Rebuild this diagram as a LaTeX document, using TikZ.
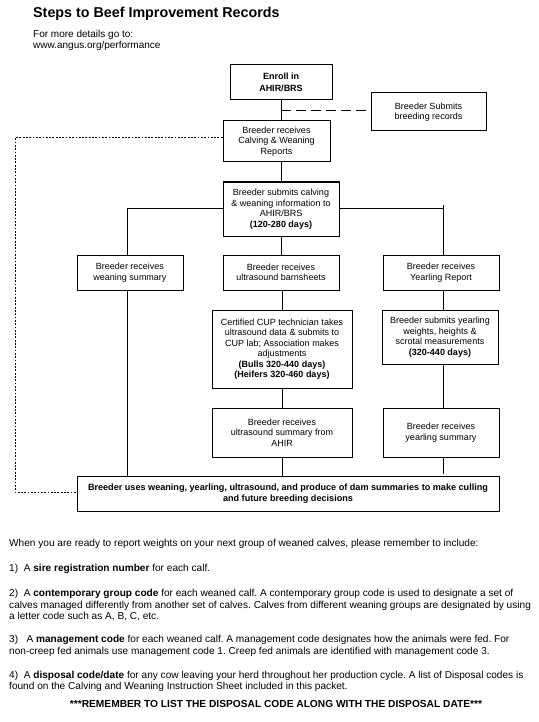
\documentclass[tikz,border=0pt]{standalone}
\usepackage{fontspec}
\setmainfont{Liberation Sans}
\frenchspacing
\begin{document}
\begin{tikzpicture}[x=1pt,y=-1pt,
  box/.style={draw,line width=1pt,rectangle,inner sep=0pt,align=center,
    font=\fontsize{9}{10.5}\selectfont},
  conn/.style={line width=0.9pt},
  body/.style={anchor=base west,inner sep=0pt,font=\fontsize{10.1}{11.5}\selectfont},
  dotline/.style={line width=1pt,dash pattern=on 1.8pt off 1.5pt},
  dashline/.style={line width=0.9pt,dash pattern=on 10pt off 5pt}]
\useasboundingbox (0,0) rectangle (538,722);
\fill[white] (0,0) rectangle (538,722);

\node[anchor=base west,inner sep=0pt,font=\bfseries\fontsize{14.3}{16}\selectfont] (title) at (33,17.3) {Steps to Beef Improvement Records};
\node[anchor=base west,inner sep=0pt,font=\fontsize{10}{12}\selectfont] (more) at (33,37.3) {For more details go to:};
\node[anchor=base west,inner sep=0pt,font=\fontsize{10}{12}\selectfont] (url) at (33,48.8) {www.angus.org/performance};

\node[box,minimum width=102pt,minimum height=35pt,font=\bfseries\fontsize{9}{11.5}\selectfont] (enroll) at (281,82.5) {Enroll in\\AHIR/BRS};
\node[box,minimum width=115pt,minimum height=38pt] (breed) at (428.5,112) {Breeder Submits\\breeding records};
\node[box,minimum width=107pt,minimum height=41pt] (calving) at (276.5,141.5) {Breeder receives\\Calving \& Weaning\\Reports};
\node[box,minimum width=116pt,minimum height=54pt] (submits) at (281,209) {Breeder submits calving\\\& weaning information to\\AHIR/BRS\\\textbf{(120-280 days)}};
\node[box,minimum width=106pt,minimum height=35pt] (weaning) at (130,272.5) {Breeder receives\\weaning summary};
\node[box,minimum width=116pt,minimum height=35pt] (barn) at (281,272.5) {Breeder receives\\ultrasound barnsheets};
\node[box,minimum width=116pt,minimum height=35pt] (yreport) at (441,272.5) {Breeder receives\\Yearling Report};
\node[box,minimum width=140pt,minimum height=78pt] (cup) at (282,349) {Certified CUP technician takes\\ultrasound data \& submits to\\CUP lab; Association makes\\adjustments\\\textbf{(Bulls 320-440 days)}\\\textbf{(Heifers 320-460 days)}};
\node[box,minimum width=116pt,minimum height=54pt] (ysubmit) at (440,337) {Breeder submits yearling\\weights, heights \&\\scrotal measurements\\\textbf{(320-440 days)}};
\node[box,minimum width=140pt,minimum height=49pt] (usum) at (282,432.5) {Breeder receives\\ultrasound summary from\\AHIR};
\node[box,minimum width=116pt,minimum height=49pt] (ysum) at (441,432.5) {Breeder receives\\yearling summary};
\node[box,minimum width=422pt,minimum height=35pt,font=\bfseries\fontsize{9.1}{11}\selectfont] (final) at (288,493.5) {Breeder uses weaning, yearling, ultrasound, and produce of dam summaries to make culling\\and future breeding decisions};

% connectors
\coordinate (dj) at (281,110);
\coordinate (dl1) at (15,138);
\coordinate (dl2) at (15,492);
\coordinate (hl) at (127,208.5);
\coordinate (hr) at (443,208.5);
\coordinate (rt) at (443,205);
\draw[conn] (enroll.south) -- (enroll.south |- calving.north);
\draw[dashline] (dj) -- (dj -| breed.west);
\draw[conn] (submits.north |- calving.south) -- (submits.north);
\draw[conn] (submits.west |- hl) -- (hl) -- (hl |- weaning.north);
\draw[conn] (submits.east |- hr) -- (hr);
\draw[conn] (rt) -- (rt |- yreport.north);
\draw[conn] (barn.north |- submits.south) -- (barn.north);
\draw[conn] (cup.north |- barn.south) -- (cup.north);
\draw[conn] (cup.south) -- (usum.north);
\draw[conn] (usum.south) -- (usum.south |- final.north);
\draw[conn] (hl |- weaning.south) -- (hl |- final.north);
\draw[conn] (rt |- yreport.south) -- (rt |- ysubmit.north);
\draw[conn] (rt |- ysubmit.south) -- (rt |- ysum.north);
\draw[conn] (rt |- ysum.south) -- ([yshift=2pt]rt |- final.north);
\draw[dotline] (calving.west |- dl1) -- (dl1) -- (dl2) -- (dl2 -| final.west);

% bottom text
\node[body] (t0) at (9,546.5) {When you are ready to report weights on your next group of weaned calves, please remember to include:};
\node[body] (t1) at (9,571.5) {1)\ \ A \textbf{sire registration number} for each calf.};
\node[body] (t2a) at (9,596.5) {2)\ \ A \textbf{contemporary group code} for each weaned calf. A contemporary group code is used to designate a set of};
\node[body] (t2b) at (9,608) {calves managed differently from another set of calves. Calves from different weaning groups are designated by using};
\node[body] (t2c) at (9,619.5) {a letter code such as A, B, C, etc.};
\node[body] (t3a) at (9,642.5) {3)\ \ \ A \textbf{management code} for each weaned calf. A management code designates how the animals were fed. For};
\node[body] (t3b) at (9,654) {non-creep fed animals use management code 1. Creep fed animals are identified with management code 3.};
\node[body] (t4a) at (9,678) {4)\ \ A \textbf{disposal code/date} for any cow leaving your herd throughout her production cycle. A list of Disposal codes is};
\node[body] (t4b) at (9,689.5) {found on the Calving and Weaning Instruction Sheet included in this packet.};
\node[anchor=base,inner sep=0pt,font=\bfseries\fontsize{10.2}{11.5}\selectfont] (rem) at (276,707) {***REMEMBER TO LIST THE DISPOSAL CODE ALONG WITH THE DISPOSAL DATE***};
\end{tikzpicture}
\end{document}
